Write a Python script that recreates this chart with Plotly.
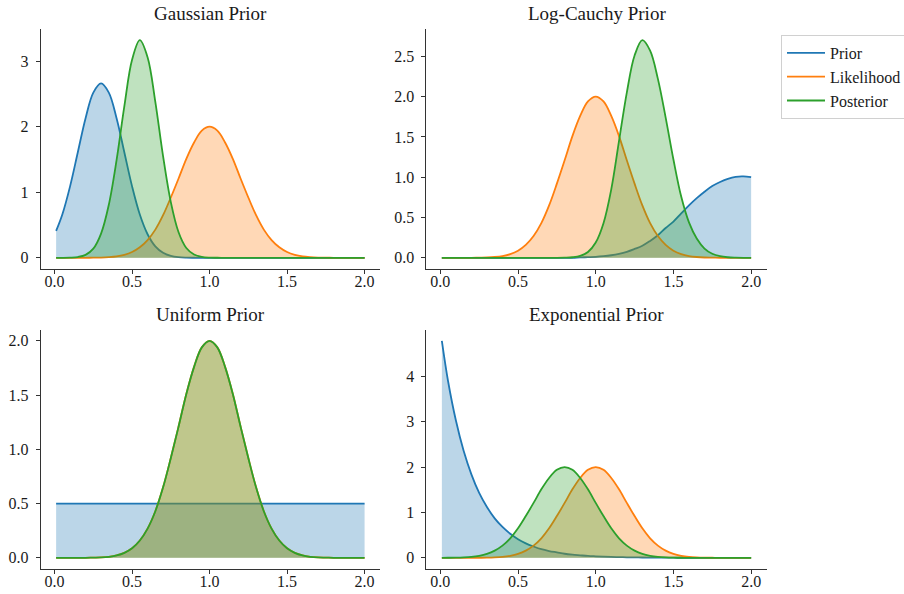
import plotly.graph_objects as go

# ---------------- data ----------------
x_grid = [0.01, 0.05, 0.10, 0.15, 0.20, 0.25, 0.30, 0.35, 0.40, 0.45,
          0.50, 0.55, 0.60, 0.65, 0.70, 0.75, 0.80, 0.85, 0.90, 0.95,
          1.00, 1.05, 1.10, 1.15, 1.20, 1.25, 1.30, 1.35, 1.40, 1.45,
          1.50, 1.55, 1.60, 1.65, 1.70, 1.75, 1.80, 1.85, 1.90, 1.95, 2.00]

likelihood = [0, 0, 0, 0, 0, 0.002, 0.004, 0.010, 0.022, 0.046,
              0.088, 0.16, 0.27, 0.43, 0.65, 0.92, 1.21, 1.51, 1.76, 1.94,
              2.00, 1.94, 1.76, 1.51, 1.21, 0.92, 0.65, 0.43, 0.27, 0.16,
              0.088, 0.046, 0.022, 0.010, 0.004, 0.002, 0, 0, 0, 0, 0]

gauss_prior = [0.41, 0.66, 1.09, 1.61, 2.13, 2.52, 2.66, 2.52, 2.13, 1.61,
               1.09, 0.66, 0.36, 0.175, 0.076, 0.030, 0.010, 0.003, 0.001, 0,
               0, 0, 0, 0, 0, 0, 0, 0, 0, 0,
               0, 0, 0, 0, 0, 0, 0, 0, 0, 0, 0]
gauss_post = [0, 0.0005, 0.003, 0.012, 0.045, 0.14, 0.37, 0.81, 1.49, 2.31,
              3.02, 3.32, 3.06, 2.38, 1.55, 0.85, 0.39, 0.15, 0.05, 0.014,
              0.003, 0.001, 0, 0, 0, 0, 0, 0, 0, 0,
              0, 0, 0, 0, 0, 0, 0, 0, 0, 0, 0]

lc_prior = [0, 0, 0, 0, 0, 0, 0, 0, 0, 0,
            0, 0, 0, 0, 0, 0, 0, 0, 0.005, 0.008,
            0.012, 0.02, 0.032, 0.05, 0.075, 0.11, 0.15, 0.21, 0.28, 0.37,
            0.45, 0.55, 0.65, 0.74, 0.82, 0.89, 0.94, 0.98, 1.005, 1.01, 1.00]
lc_post = [0, 0, 0, 0, 0, 0, 0, 0, 0, 0,
           0, 0, 0, 0, 0, 0, 0.002, 0.007, 0.024, 0.072,
           0.19, 0.43, 0.85, 1.45, 2.05, 2.51, 2.70, 2.57, 2.22, 1.74,
           1.22, 0.76, 0.44, 0.24, 0.115, 0.05, 0.02, 0.007, 0.002, 0, 0]

unif_prior = [0.5] * 41
unif_post = [0, 0, 0, 0, 0, 0.002, 0.004, 0.010, 0.022, 0.046,
             0.088, 0.16, 0.27, 0.43, 0.65, 0.92, 1.21, 1.51, 1.76, 1.94,
             2.00, 1.94, 1.76, 1.51, 1.21, 0.92, 0.65, 0.43, 0.27, 0.16,
             0.088, 0.046, 0.022, 0.010, 0.004, 0.002, 0, 0, 0, 0, 0]

exp_prior = [4.78, 3.89, 3.03, 2.36, 1.84, 1.43, 1.12, 0.87, 0.68, 0.53,
             0.41, 0.32, 0.25, 0.19, 0.15, 0.12, 0.09, 0.07, 0.056, 0.043,
             0.034, 0.026, 0.02, 0.016, 0.012, 0.0097, 0.0075, 0.0059, 0.0046, 0.0036,
             0.0028, 0.0021, 0.0017, 0.0013, 0.001, 0.0008, 0.0006, 0.0005, 0.0004, 0.0003, 0.0002]
exp_post = [0.001, 0.002, 0.004, 0.010, 0.022, 0.046, 0.088, 0.16, 0.27, 0.43,
            0.65, 0.92, 1.21, 1.51, 1.76, 1.94, 2.00, 1.94, 1.76, 1.51,
            1.21, 0.92, 0.65, 0.43, 0.27, 0.16, 0.088, 0.046, 0.022, 0.010,
            0.004, 0.002, 0, 0, 0, 0, 0, 0, 0, 0, 0]

titles = ["Gaussian Prior", "Log-Cauchy Prior", "Uniform Prior", "Exponential Prior"]
series_names = ["Prior", "Likelihood", "Posterior"]
panels = [
    (gauss_prior, likelihood, gauss_post),
    (lc_prior, likelihood, lc_post),
    (unif_prior, likelihood, unif_post),
    (exp_prior, likelihood, exp_post),
]
x_ticks = [0.0, 0.5, 1.0, 1.5, 2.0]
y_ticks = [[0, 1, 2, 3], [0.0, 0.5, 1.0, 1.5, 2.0, 2.5],
           [0.0, 0.5, 1.0, 1.5, 2.0], [0, 1, 2, 3, 4]]
y_fmt = ["d", ".1f", ".1f", "d"]

# ---------------- style ----------------
W, H = 904, 594
line_cols = ["#1f77b4", "#ff7f0e", "#2ca02c"]
fill_cols = ["rgba(31,119,180,0.3)", "rgba(255,127,14,0.3)", "rgba(44,160,44,0.3)"]
FONT = "Liberation Serif, Times New Roman, serif"
SPL = dict(shape="spline", smoothing=1.0)

# axes boxes in pixels (left, right, top, bottom)
boxes = [(40.7, 380.0, 29.3, 268.7), (426.4, 766.6, 29.3, 268.7),
         (40.7, 380.0, 330.0, 568.7), (426.4, 766.6, 330.0, 568.7)]

fig = go.Figure()
for i, curves in enumerate(panels):
    xa = "x" if i == 0 else f"x{i+1}"
    ya = "y" if i == 0 else f"y{i+1}"
    for j, ys in enumerate(curves):
        # shaded area (no legend entry)
        fig.add_trace(go.Scatter(
            x=x_grid, y=ys, mode="lines", line=dict(width=0, color=line_cols[j], **SPL),
            fill="tozeroy", fillcolor=fill_cols[j], hoverinfo="skip",
            xaxis=xa, yaxis=ya, showlegend=False,
        ))
        # curve line
        fig.add_trace(go.Scatter(
            x=x_grid, y=ys, mode="lines", name=series_names[j],
            line=dict(color=line_cols[j], width=1.8, **SPL),
            xaxis=xa, yaxis=ya, showlegend=(i == 0), legendgroup=series_names[j],
        ))

layout = dict(
    width=W, height=H,
    margin=dict(l=0, r=0, t=0, b=0, autoexpand=False),
    paper_bgcolor="white", plot_bgcolor="white",
    font=dict(family=FONT, size=16, color="#1a1a1a"),
    showlegend=True,
    legend=dict(x=781 / W, y=1 - 35 / H, xanchor="left", yanchor="top",
                bgcolor="white", bordercolor="#d0d0d0", borderwidth=1,
                font=dict(family=FONT, size=16, color="#1a1a1a"),
                tracegroupgap=0, itemwidth=38),
    annotations=[],
)

for i in range(4):
    l, r, t, b = boxes[i]
    sx = "" if i == 0 else str(i + 1)
    ymax = max(max(c) for c in panels[i])
    xmin, xmax = min(x_grid), max(x_grid)
    xpad = 0.05 * (xmax - xmin)
    common = dict(showgrid=False, zeroline=False, showline=True, linecolor="#333333",
                  linewidth=1, ticks="outside", ticklen=4, tickwidth=1,
                  tickcolor="#333333", tickfont=dict(family=FONT, size=16, color="#1a1a1a"),
                  fixedrange=True)
    layout["xaxis" + sx] = dict(common, domain=[l / W, r / W],
                                range=[xmin - xpad, xmax + xpad],
                                tickvals=x_ticks, tickformat=".1f",
                                anchor="y" + sx, ticklabelstandoff=-6)
    layout["yaxis" + sx] = dict(common, domain=[1 - b / H, 1 - t / H],
                                range=[-0.05 * ymax, 1.05 * ymax],
                                tickvals=y_ticks[i], tickformat=y_fmt[i],
                                anchor="x" + sx, ticklabelstandoff=4)
    layout["annotations"].append(dict(
        text=titles[i], xref="paper", yref="paper",
        x=(l + r) / 2 / W, y=1 - t / H, xanchor="center", yanchor="bottom",
        yshift=3, showarrow=False,
        font=dict(family=FONT, size=19, color="#1a1a1a")))

fig.update_layout(**layout)
fig.write_html("out.html")
